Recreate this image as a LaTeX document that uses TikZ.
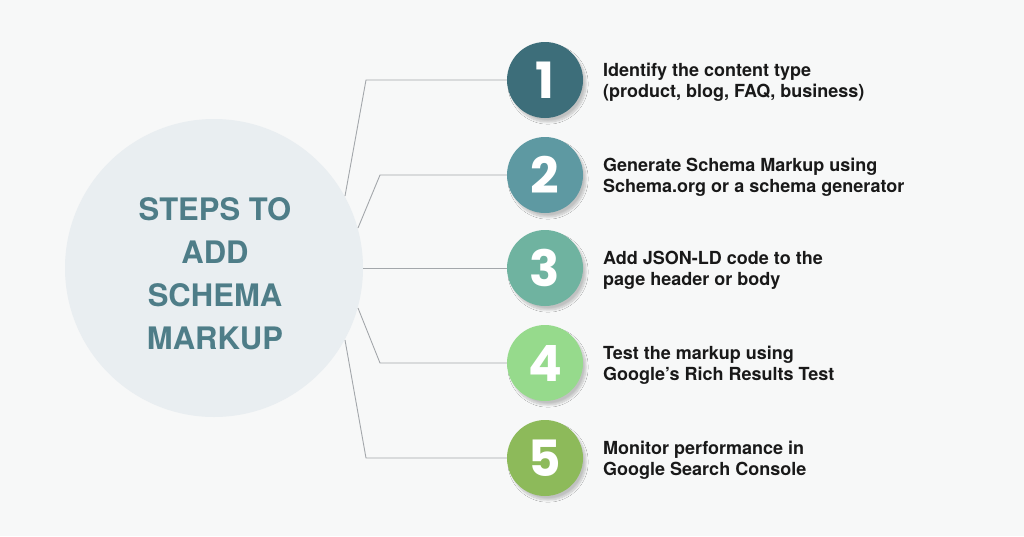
\documentclass[tikz,border=0pt]{standalone}
\usepackage{fontspec}
\setmainfont{TeX Gyre Heros}
\newfontfamily\numfont{Poppins}
\usetikzlibrary{shadows.blur}
\definecolor{bgc}{HTML}{F7F8F8}
\definecolor{bigc}{HTML}{E9EEF1}
\definecolor{titlec}{HTML}{4E7D88}
\definecolor{linec}{HTML}{A3A7AB}
\definecolor{cA}{HTML}{3D6E7A}
\definecolor{cB}{HTML}{5E99A2}
\definecolor{cC}{HTML}{6FB3A0}
\definecolor{cD}{HTML}{96DA8C}
\definecolor{cE}{HTML}{8DBA5A}
\tikzset{
  numcircle/.style={circle, minimum size=76pt, inner sep=0pt, fill=#1, text=white,
    font=\numfont\bfseries\fontsize{50}{50}\selectfont,
    blur shadow={shadow xshift=3pt, shadow yshift=-4pt, shadow blur steps=10, shadow opacity=22}},
  steptext/.style={anchor=base west, inner sep=0pt, align=left, text=black!90,
    font=\bfseries\fontsize{18}{21.5}\selectfont},
  conn/.style={draw=linec, line width=0.9pt, line join=miter},
}
\begin{document}
\begin{tikzpicture}[x=1pt,y=-1pt]
\fill[bgc] (0,0) rectangle (1024,536);
\useasboundingbox (0,0) rectangle (1024,536);
\node[circle, fill=bigc, minimum size=298pt, inner sep=0pt] (main) at (214,268) {};
\node[align=center, text=titlec, font=\bfseries\fontsize{31}{43}\selectfont] (title) at (215,274) {STEPS TO\\ADD\\SCHEMA\\MARKUP};

\node[numcircle=cA] (n1) at (545,80) {1};
\node[numcircle=cB] (n2) at (545,175) {2};
\node[numcircle=cC] (n3) at (545,268) {3};
\node[numcircle=cD] (n4) at (545,363) {4};
\node[numcircle=cE] (n5) at (545,458) {5};

\coordinate (s1) at (345,196);
\coordinate (b1) at (366,80);
\coordinate (s2) at (358,228);
\coordinate (b2) at (380,175);
\coordinate (s4) at (358,308);
\coordinate (b4) at (380,363);
\coordinate (s5) at (345,340);
\coordinate (b5) at (366,458);

\draw[conn] (s1) -- (b1) -- (n1.west);
\draw[conn] (s2) -- (b2) -- (n2.west);
\draw[conn] (main.east) -- (n3.west);
\draw[conn] (s4) -- (b4) -- (n4.west);
\draw[conn] (s5) -- (b5) -- (n5.west);

\node[steptext] (t1) at (603,97.5) {Identify the content type\\(product, blog, FAQ, business)};
\node[steptext] (t2) at (603,192.5) {Generate Schema Markup using\\Schema.org or a schema generator};
\node[steptext] (t3) at (603,285.5) {Add JSON-LD code to the\\page header or body};
\node[steptext] (t4) at (603,380.5) {Test the markup using\\Google’s Rich Results Test};
\node[steptext] (t5) at (603,475.5) {Monitor performance in\\Google Search Console};
\end{tikzpicture}
\end{document}
